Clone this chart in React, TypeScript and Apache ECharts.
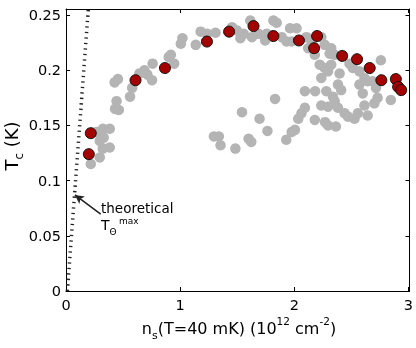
import React, { useEffect, useRef } from 'react';
import * as echarts from 'echarts';

// Highlighted (red) samples: carrier density (1e12 cm^-2) and Tc (K)
const redN = [0.200, 0.217, 0.609, 0.867, 1.235, 1.429, 1.643, 1.817, 2.041, 2.200, 2.174, 2.420, 2.550, 2.661, 2.763, 2.890, 2.910, 2.937];
const redT = [0.124, 0.143, 0.191, 0.202, 0.226, 0.235, 0.240, 0.231, 0.227, 0.231, 0.220, 0.213, 0.210, 0.202, 0.191, 0.192, 0.185, 0.182];

// Gray samples
const grayN = [
  0.267, 0.324, 0.383, 0.330, 0.296, 0.383, 0.322, 0.296, 0.217, 0.455,
  0.426, 0.580, 0.561, 0.443, 0.430, 0.463, 0.759, 0.687, 0.643, 0.713,
  0.754, 0.919, 0.900, 0.948, 1.020, 1.006, 1.137, 1.180, 1.237, 1.310,
  1.455, 1.498, 1.528, 1.557, 1.615, 1.629, 1.687, 1.759, 1.745, 1.817,
  1.846, 1.890, 1.933, 1.977, 1.963, 2.020, 2.107, 2.150, 2.122, 2.267,
  2.237, 2.324, 2.310, 2.354, 2.180, 2.223, 2.267, 2.296, 2.237, 2.324,
  2.397, 2.484, 2.513, 2.571, 2.615, 2.643, 2.759, 2.687, 2.716, 2.571,
  2.600, 2.383, 2.411, 2.093, 2.183, 2.281, 2.339, 2.730, 2.846, 2.702,
  2.615, 2.557, 2.643, 2.528, 2.441, 2.470, 2.383, 2.354, 2.296, 2.237,
  2.093, 2.063, 2.035, 2.006, 1.977, 1.930, 2.180, 2.270, 2.365, 2.296,
  1.296, 1.339, 1.354, 1.484, 1.542, 1.696, 1.765, 1.600, 1.623, 1.832,
];
const grayT = [
  0.144, 0.147, 0.147, 0.139, 0.136, 0.130, 0.129, 0.121, 0.115, 0.192,
  0.189, 0.184, 0.176, 0.172, 0.165, 0.164, 0.206, 0.200, 0.197, 0.196,
  0.191, 0.214, 0.212, 0.206, 0.229, 0.224, 0.223, 0.235, 0.233, 0.234,
  0.239, 0.236, 0.229, 0.233, 0.245, 0.230, 0.233, 0.233, 0.227, 0.245,
  0.243, 0.230, 0.226, 0.226, 0.238, 0.238, 0.230, 0.226, 0.220, 0.223,
  0.230, 0.220, 0.215, 0.214, 0.214, 0.205, 0.202, 0.199, 0.193, 0.205,
  0.197, 0.206, 0.202, 0.199, 0.193, 0.190, 0.209, 0.190, 0.184, 0.187,
  0.179, 0.187, 0.182, 0.181, 0.181, 0.181, 0.176, 0.175, 0.173, 0.170,
  0.168, 0.161, 0.159, 0.156, 0.161, 0.158, 0.166, 0.172, 0.167, 0.168,
  0.166, 0.161, 0.156, 0.146, 0.144, 0.137, 0.155, 0.153, 0.149, 0.150,
  0.140, 0.140, 0.132, 0.129, 0.162, 0.156, 0.145, 0.138, 0.135, 0.174,
];

// Theoretical maximum line
const theoryN = [0.012, 0.196];
const theoryT = [0, 0.256];

// Arrow annotation (data coords)
const arrowTail = [0.304, 0.0697];
const arrowHead = [0.078, 0.087];

const xTicks = [0, 1, 2, 3];
const yTicks = [0, 0.05, 0.1, 0.15, 0.2, 0.25];

const FONT = 'DejaVu Sans';

export default function App() {
  const ref = useRef<HTMLDivElement>(null);
  useEffect(() => {
    const chart = echarts.init(ref.current!, null, { renderer: 'svg' });
    const lineStyle = { color: '#000', width: 1 };
    const xFmt = (v: number) => (xTicks.some((t) => Math.abs(t - v) < 1e-9) ? String(v) : '');
    const yFmt = (v: number) => (yTicks.some((t) => Math.abs(t - v) < 1e-9) ? String(+v.toFixed(2)) : '');
    const xBase = { type: 'value', min: 0, max: 3.01, interval: 1, splitLine: { show: false } };
    const yBase = { type: 'value', min: 0, max: 0.2555, interval: 0.05, splitLine: { show: false } };
    const txt = (fontSize: number, lineHeight: number, verticalAlign?: string) => ({
      fontSize,
      lineHeight,
      fontFamily: FONT,
      color: '#000',
      ...(verticalAlign ? { verticalAlign } : {}),
    });
    const option = {
      animation: false,
      grid: { left: 66, right: 4, top: 9, bottom: 57 },
      xAxis: [
        {
          ...xBase,
          position: 'bottom',
          axisLine: { show: true, onZero: false, lineStyle },
          axisTick: { show: true, inside: true, length: 4, lineStyle },
          axisLabel: { formatter: xFmt, fontSize: 14.5, fontFamily: FONT, color: '#000', margin: 6 },
        },
        {
          ...xBase,
          position: 'top',
          axisLine: { show: true, onZero: false, lineStyle },
          axisTick: { show: true, inside: true, length: 4, lineStyle },
          axisLabel: { show: false },
        },
      ],
      yAxis: [
        {
          ...yBase,
          position: 'left',
          axisLine: { show: true, onZero: false, lineStyle },
          axisTick: { show: true, inside: true, length: 4, lineStyle },
          axisLabel: { formatter: yFmt, fontSize: 14.5, fontFamily: FONT, color: '#000', margin: 5 },
        },
        {
          ...yBase,
          position: 'right',
          axisLine: { show: true, onZero: false, lineStyle },
          axisTick: { show: true, inside: true, length: 4, lineStyle },
          axisLabel: { show: false },
        },
      ],
      series: [
        {
          type: 'line',
          data: theoryN.map((n, i) => [n, theoryT[i]]),
          showSymbol: false,
          symbol: 'none',
          lineStyle: { color: '#222', width: 3.5, type: [1.3, 4.2], cap: 'butt' },
          z: 1,
          markLine: {
            silent: true,
            symbol: ['none', 'arrow'],
            symbolSize: [7, 9],
            label: { show: false },
            lineStyle: { color: '#222', width: 1.6, type: 'solid' },
            data: [[{ coord: arrowTail }, { coord: arrowHead }]],
          },
        },
        {
          type: 'scatter',
          data: grayN.map((n, i) => [n, grayT[i]]),
          symbolSize: 10.5,
          itemStyle: { color: '#b4b4b4', opacity: 1 },
          z: 2,
        },
        {
          type: 'scatter',
          data: redN.map((n, i) => [n, redT[i]]),
          symbolSize: 11,
          itemStyle: { color: '#a30000', borderColor: '#111', borderWidth: 1, opacity: 1 },
          z: 3,
        },
      ],
      graphic: [
        {
          type: 'text',
          x: 239,
          y: 328,
          style: {
            text: '{m|n}{sub|s}{m|(T=40 mK) (10}{sup|12}{m| cm}{sup|-2}{m|)}',
            align: 'center',
            verticalAlign: 'middle',
            rich: {
              m: txt(16, 26),
              sub: txt(11, 11, 'bottom'),
              sup: txt(10.5, 18, 'top'),
            },
          },
        },
        {
          type: 'text',
          x: 11,
          y: 146,
          rotation: Math.PI / 2,
          style: {
            text: '{m|T}{sub|c}{m| (K)}',
            align: 'center',
            verticalAlign: 'middle',
            rich: {
              m: txt(18, 28),
              sub: txt(12, 12, 'bottom'),
            },
          },
        },
        {
          type: 'text',
          x: 101,
          y: 208,
          style: {
            text: 'theoretical',
            fontSize: 13.5,
            fontFamily: FONT,
            fill: '#000',
            align: 'left',
            verticalAlign: 'middle',
          },
        },
        {
          type: 'text',
          x: 101,
          y: 225,
          style: { text: 'T', fontSize: 14, fontFamily: FONT, fill: '#000', align: 'left', verticalAlign: 'middle' },
        },
        {
          type: 'text',
          x: 109.5,
          y: 232,
          style: { text: 'Θ', fontSize: 9, fontFamily: FONT, fill: '#000', align: 'left', verticalAlign: 'middle' },
        },
        {
          type: 'text',
          x: 119,
          y: 221,
          style: { text: 'max', fontSize: 9, fontFamily: FONT, fill: '#000', align: 'left', verticalAlign: 'middle' },
        },
      ],
    };
    chart.setOption(option as any);
    return () => chart.dispose();
  }, []);
  return <div ref={ref} style={{ position: 'fixed', left: 0, top: 0, width: 416, height: 348 }} />;
}
